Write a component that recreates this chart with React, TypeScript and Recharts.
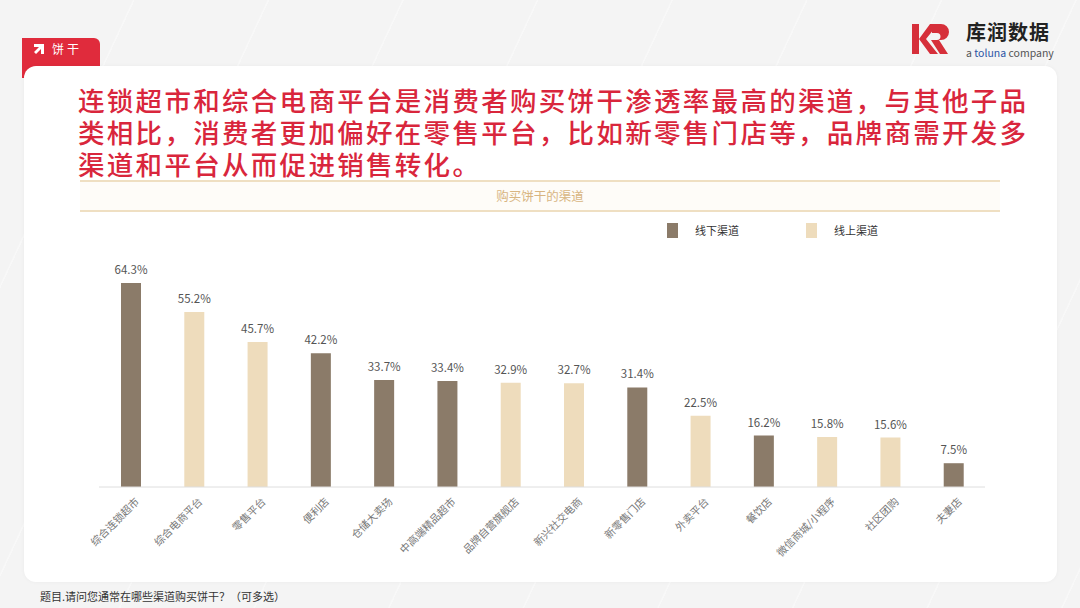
import { Bar, BarChart, LabelList, Legend, XAxis, YAxis } from "recharts";

const channels = [
  "综合连锁超市",
  "综合电商平台",
  "零售平台",
  "便利店",
  "仓储大卖场",
  "中高端精品超市",
  "品牌自营旗舰店",
  "新兴社交电商",
  "新零售门店",
  "外卖平台",
  "餐饮店",
  "微信商城/小程序",
  "社区团购",
  "夫妻店",
];
// 线下渠道
const offlineShare = [64.3, null, null, 42.2, 33.7, 33.4, null, null, 31.4, null, 16.2, null, null, 7.5];
// 线上渠道
const onlineShare = [null, 55.2, 45.7, null, null, null, 32.9, 32.7, null, 22.5, null, 15.8, 15.6, null];
const seriesNames = ["线下渠道", "线上渠道"];

const DARK = "#8b7b69";
const LIGHT = "#eedcbc";
const FONT = '"Noto Sans CJK SC", "Noto Sans", sans-serif';

const data = channels.map((name, i) => ({
  name,
  offline: offlineShare[i],
  online: onlineShare[i],
}));

const pct = (v: unknown) => (v == null || v === "" ? "" : `${Number(v).toFixed(1)}%`);

function ChannelLegend({ payload }: any) {
  const items = [...(payload ?? [])].sort(
    (a: any, b: any) => seriesNames.indexOf(a.value) - seriesNames.indexOf(b.value)
  );
  return (
    <div style={{ display: "flex", fontFamily: FONT, fontSize: 11, color: "#333" }}>
      {items.map((p: any) => (
        <div key={p.value} style={{ display: "flex", alignItems: "center", width: 139 }}>
          <span style={{ width: 11, height: 15, background: p.color, marginRight: 17 }} />
          <span>{p.value}</span>
        </div>
      ))}
    </div>
  );
}

function Logo() {
  return (
    <div style={{ position: "absolute", left: 912, top: 18, display: "flex", alignItems: "center" }}>
      <svg width="42" height="34" viewBox="0 0 42 34">
        <rect x="0" y="2" width="7" height="30" fill="#d62f3a" />
        <path d="M7 17 L18 2 L26 2 L14 17 L26 32 L18 32 Z" fill="#d62f3a" />
        <path d="M20 2 h9 a8 8 0 0 1 0 16 h-2 l9 14 h-8 l-9 -14 h6 a3 3 0 0 0 0 -7 h-5 Z" fill="#d62f3a" />
      </svg>
      <div style={{ marginLeft: 12 }}>
        <div style={{ fontFamily: FONT, fontWeight: 700, fontSize: 20, lineHeight: "28px", color: "#222", letterSpacing: 1 }}>
          库润数据
        </div>
        <div style={{ fontFamily: FONT, fontSize: 10.5, lineHeight: "14px", color: "#555" }}>
          a <span style={{ color: "#2b55a5" }}>toluna</span> company
        </div>
      </div>
    </div>
  );
}

export default function App() {
  return (
    <div
      style={{
        position: "absolute",
        left: 0,
        top: 0,
        width: 1080,
        height: 608,
        overflow: "hidden",
        fontFamily: FONT,
        background:
          "repeating-linear-gradient(115deg, #f4f4f4 0px, #f4f4f4 120px, #f8f8f8 121px, #f8f8f8 122px), #f4f4f4",
      }}
    >
      <Logo />
      {/* tag */}
      <div
        style={{
          position: "absolute",
          left: 22,
          top: 38,
          width: 78,
          height: 40,
          background: "#e02b3c",
          borderTopRightRadius: 6,
        }}
      />
      <div
        style={{
          position: "absolute",
          left: 34,
          top: 40,
          color: "#fff",
          fontSize: 12,
          display: "flex",
          alignItems: "center",
          gap: 8,
        }}
      >
        <svg width="10" height="10" viewBox="0 0 10 10">
          <path d="M0 0 H10 V10 H7 V5 L2 10 L0 8 L5 3 H0 Z" fill="#fff" />
        </svg>
        <span style={{ letterSpacing: 3 }}>饼干</span>
      </div>
      {/* card */}
      <div
        style={{
          position: "absolute",
          left: 24,
          top: 66,
          width: 1033,
          height: 516,
          background: "#fff",
          borderRadius: 12,
          boxShadow: "0 0 4px rgba(0,0,0,0.04)",
        }}
      />
      <div
        style={{
          position: "absolute",
          left: 78,
          top: 84,
          width: 990,
          color: "#d9263c",
          fontSize: 26.5,
          lineHeight: "32px",
          letterSpacing: 2.3,
          fontWeight: 500,
        }}
      >
        连锁超市和综合电商平台是消费者购买饼干渗透率最高的渠道，与其他子品
        <br />
        类相比，消费者更加偏好在零售平台，比如新零售门店等，品牌商需开发多
        <br />
        渠道和平台从而促进销售转化。
      </div>
      {/* chart header band */}
      <div
        style={{
          position: "absolute",
          left: 80,
          top: 180,
          width: 920,
          height: 28,
          borderTop: "2px solid #efdfc2",
          borderBottom: "2px solid #efdfc2",
          background: "#fefcf8",
          color: "#d8b582",
          fontSize: 12.5,
          textAlign: "center",
          lineHeight: "28px",
        }}
      >
        购买饼干的渠道
      </div>
      <div style={{ position: "absolute", left: 0, top: 210 }}>
        <BarChart width={1080} height={370} data={data} margin={{ top: 39, right: 95, bottom: 13, left: 99 }} barSize={20}>
          <XAxis
            dataKey="name"
            interval={0}
            height={80}
            tickLine={false}
            axisLine={{ stroke: "#dedede" }}
            tick={{ fontSize: 10.5, fill: "#777", fontFamily: FONT, angle: -45, textAnchor: "end", dx: 4, dy: 2 }}
          />
          <YAxis hide domain={[0, 70]} />
          <Legend
            verticalAlign="top"
            align="left"
            content={<ChannelLegend />}
            wrapperStyle={{ position: "absolute", left: 667, top: 12, width: 300 }}
          />
          <Bar dataKey="offline" name="线下渠道" stackId="a" fill={DARK} isAnimationActive={false}>
            <LabelList dataKey="offline" position="top" offset={9} formatter={pct} style={{ fontSize: 11.5, fill: "#555", fontFamily: FONT }} />
          </Bar>
          <Bar dataKey="online" name="线上渠道" stackId="a" fill={LIGHT} isAnimationActive={false}>
            <LabelList dataKey="online" position="top" offset={9} formatter={pct} style={{ fontSize: 11.5, fill: "#555", fontFamily: FONT }} />
          </Bar>
        </BarChart>
      </div>
      <div style={{ position: "absolute", left: 40, top: 588, fontSize: 11, color: "#333" }}>
        题目.请问您通常在哪些渠道购买饼干？（可多选）
      </div>
    </div>
  );
}
